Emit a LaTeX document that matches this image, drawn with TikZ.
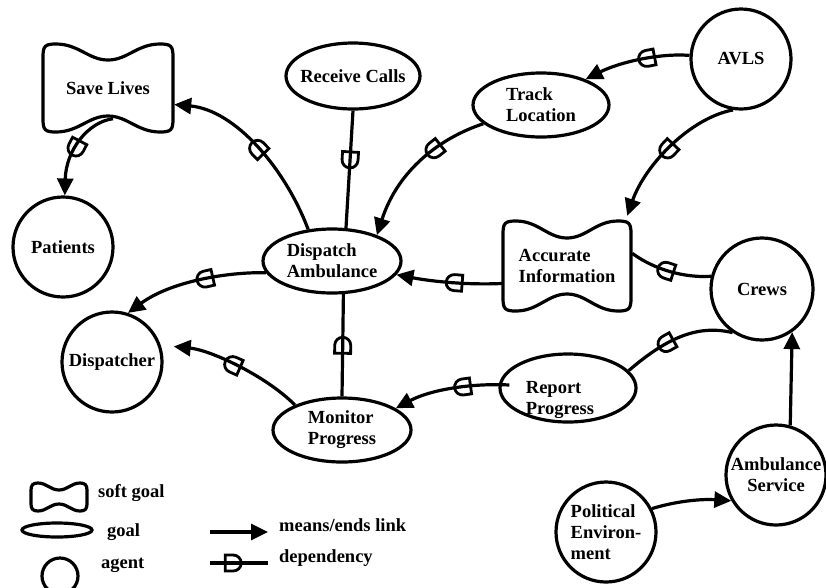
\documentclass[tikz,border=0pt]{standalone}
\usepackage{fontspec}
\setmainfont{Liberation Serif}
\usetikzlibrary{arrows.meta,shapes.geometric,decorations.markings}
\newcommand\diagfont{\bfseries\fontsize{18.5}{21}\selectfont}
\tikzset{
  ln/.style={line width=3.2pt},
  goal/.style={ellipse, draw, ln, inner sep=0pt, align=left, font=\diagfont},
  agent/.style={circle, draw, ln, inner sep=0pt, minimum size=100pt, align=center, font=\diagfont},
  soft/.style={rectangle, inner sep=0pt, align=left, font=\diagfont},
  txt/.style={inner sep=0pt, align=left, font=\diagfont},
  means/.style={ln, -{Triangle[length=17pt,width=16pt]}},
  dep/.style={postaction={decorate, decoration={markings, mark=at position #1 with {\draw[-, shorten >=0pt, line width=2.8pt] (-8pt,-8pt) -- (-8pt,8pt) -- (0pt,8pt) arc[start angle=90, end angle=-90, radius=8pt] -- cycle;}}}},
  pics/bone/.style n args={4}{code={
    \draw[ln] (-#1,-#2+#4) .. controls (-#1,-#2+2) and (-#1+2,-#2) .. (-#1+#4,-#2)
      .. controls (-0.45*#1,-#2) and (-0.3*#1,-#2+#3) .. (0,-#2+#3)
      .. controls (0.3*#1,-#2+#3) and (0.45*#1,-#2) .. (#1-#4,-#2)
      .. controls (#1-2,-#2) and (#1,-#2+2) .. (#1,-#2+#4)
      -- (#1,#2-#4)
      .. controls (#1,#2-2) and (#1-2,#2) .. (#1-#4,#2)
      .. controls (0.45*#1,#2) and (0.3*#1,#2-#3) .. (0,#2-#3)
      .. controls (-0.3*#1,#2-#3) and (-0.45*#1,#2) .. (-#1+#4,#2)
      .. controls (-#1+2,#2) and (-#1,#2-2) .. (-#1,#2-#4) -- cycle;
  }},
}
\begin{document}
\begin{tikzpicture}[x=1pt,y=-1pt]
  \useasboundingbox (0,0) rectangle (826,587);

  \node[soft, minimum width=132pt, minimum height=91pt] (savelives) at (108,88) {Save Lives};
  \pic at (savelives.center) {bone={65}{44}{16}{13}};
  \node[soft, minimum width=130pt, minimum height=92pt] (accurate) at (567,266) {Accurate\\Information};
  \pic at (accurate.center) {bone={64}{45}{17}{13}};

  \node[goal, minimum width=134pt, minimum height=66pt, inner xsep=-10pt] (receive) at (353,76) {Receive Calls};
  \node[goal, minimum width=138pt, minimum height=64pt] (dispatch) at (332,261) {Dispatch\\Ambulance};
  \node[goal, minimum width=136pt, minimum height=64pt] (track) at (541,105) {Track\\Location};
  \node[goal, minimum width=138pt, minimum height=64pt] (monitor) at (342,430) {Monitor\\Progress};
  \node[goal, minimum width=136pt, minimum height=68pt] (report) at (568,388) {};
  \node[txt] (reporttext) at (560,400) {Report\\Progress};

  \node[agent] (avls) at (741,59) {AVLS};
  \node[agent] (patients) at (63,247) {Patients};
  \node[agent, minimum size=102pt] (crews) at (762,289) {Crews};
  \node[agent] (dispatcher) at (112,362) {Dispatcher};
  \node[agent] (ambulance) at (776,475) {Ambulance\\Service};
  \node[agent, align=left] (political) at (606,532) {Political\\Environ-\\ment};

  \draw[means, dep=0.5] (dispatch.127) .. controls (285,168) and (235,110) .. (savelives.-14);
  \draw[means, dep=0.5] ([shift={(5pt,15pt)}]savelives.south) .. controls (88,122) and (66,150) .. (patients.88);
  \draw[ln, dep=0.42] (receive.south) -- (dispatch.67);
  \draw[means, dep=0.35] (track.198) .. controls (440,138) and (398,170) .. (dispatch.30);
  \draw[means, dep=0.4] (avls.176) .. controls (660,53) and (620,62) .. (track.30);
  \draw[means, dep=0.5] (avls.261) .. controls (690,118) and (645,165) .. ([xshift=-5pt,yshift=4pt]accurate.north east);
  \draw[means, dep=0.45] (accurate.195) .. controls (470,285) and (435,282) .. (dispatch.-12);
  \draw[ln, dep=0.55] (crews.166) .. controls (685,278) and (655,270) .. (accurate.11);
  \draw[means, dep=0.42] (dispatch.190) .. controls (225,272) and (170,282) .. (dispatcher.72);
  \draw[means, dep=0.5, shorten >=13pt] (monitor.152) .. controls (265,375) and (210,350) .. (dispatcher.19);
  \draw[ln, dep=0.5] (monitor.north) -- (dispatch.-71);
  \draw[means, dep=0.4] ([shift={(11pt,3pt)}]report.west) .. controls (470,383) and (430,390) .. (monitor.22);
  \draw[ln, dep=0.6] (crews.236) .. controls (700,325) and (670,335) .. (report.16);
  \draw[means] (ambulance.74) -- (crews.-55);
  \draw[means] (political.27) .. controls (680,500) and (705,499) .. (ambulance.210);

  \pic at (59,497) {bone={28}{14}{7}{7}};
  \draw[ln] (57,530) ellipse [x radius=35, y radius=7];
  \draw[ln] (60,576) circle [radius=18];
  \node[txt, anchor=west] (lsoft) at (98,493) {soft goal};
  \node[txt, anchor=west] (lgoal) at (107,532) {goal};
  \node[txt, anchor=west] (lagent) at (101,565) {agent};
  \coordinate (mlA) at (210,532);
  \coordinate (mlB) at (268,532);
  \coordinate (dlA) at (210,563);
  \coordinate (dlB) at (268,563);
  \draw[means] (mlA) -- (mlB);
  \draw[ln, dep=0.4] (dlA) -- (dlB);
  \node[txt, anchor=west] (lmeans) at (279,525) {means/ends link};
  \node[txt, anchor=west] (ldep) at (279,558) {dependency};
\end{tikzpicture}
\end{document}
